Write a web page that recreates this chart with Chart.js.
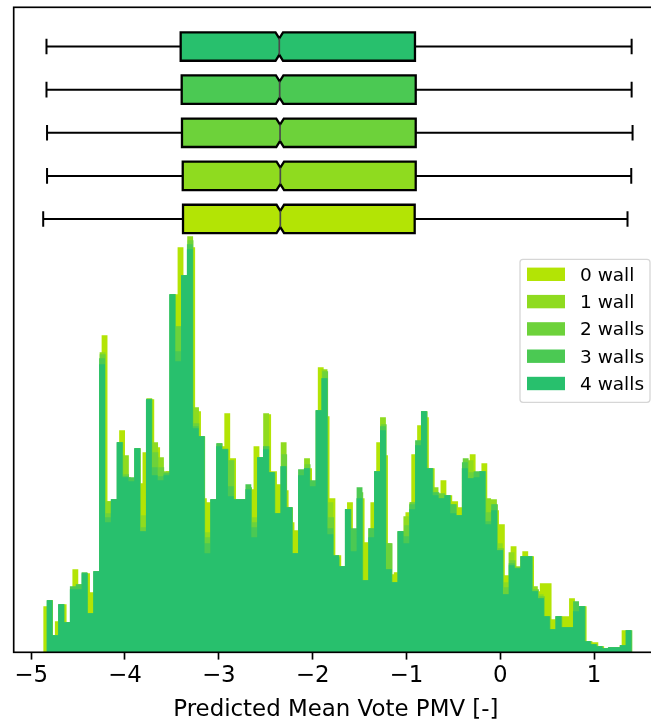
<!DOCTYPE html>
<html>
<head>
<meta charset="utf-8">
<script src="https://cdn.jsdelivr.net/npm/chart.js@4.4.0/dist/chart.umd.min.js"></script>
<style>
html, body { margin: 0; padding: 0; background: #fff; overflow: hidden; }
#wrap { width: 665px; height: 722px; }
</style>
</head>
<body>
<div id="wrap"><canvas id="pmvChart" width="665" height="722"></canvas></div>
<script>
// series
const seriesNames = ['0 wall', '1 wall', '2 walls', '3 walls', '4 walls'];
const seriesColors = ['#b3e405', '#8fdb1f', '#6dd23a', '#4bc953', '#28c06d'];

// box plot stats (PMV)
const whiskerLo = [-4.871, -4.830, -4.830, -4.836, -4.836];
const q1 = [-3.381, -3.384, -3.392, -3.395, -3.406];
const median = [-2.344, -2.344, -2.347, -2.351, -2.355];
const q3 = [-0.912, -0.901, -0.901, -0.901, -0.909];
const whiskerHi = [1.356, 1.396, 1.410, 1.400, 1.400];
const notchHalf = [0.04, 0.04, 0.04, 0.04, 0.04];
const boxPos = [1, 2, 3, 4, 5];

const xTicks = [-5, -4, -3, -2, -1, 0, 1];
const binCount = 100;

// histogram counts, 100 bins between whiskerLo and whiskerHi of each series
const counts0 = [46,17,31,48,30,83,63,79,60,81,
  317,151,153,222,175,171,169,200,253,205,
  172,181,358,405,377,405,241,154,150,153,
  206,239,194,153,153,163,206,195,238,181,
  168,162,130,122,177,184,166,285,236,154,
  97,86,150,101,154,110,150,210,197,78,
  80,121,140,198,227,235,184,157,172,157,
  151,145,184,198,175,189,128,142,128,77,
  106,84,101,96,61,69,69,33,36,36,
  54,41,46,11,10,6,4,5,5,22];
const counts1 = [52,17,48,30,63,68,79,39,81,300,
  151,153,210,197,171,204,137,254,210,195,
  181,358,326,377,416,245,216,120,153,206,
  204,192,153,153,163,135,195,239,180,139,
  210,145,99,177,194,166,242,283,150,97,
  86,143,106,154,72,124,181,235,109,70,
  121,136,150,207,241,184,165,154,157,139,
  137,184,192,175,181,154,153,109,70,100,
  86,96,96,66,58,36,23,36,25,25,
  41,46,11,8,6,4,5,5,7,22];
const counts2 = [52,17,48,30,64,66,79,39,81,298,
  139,153,210,178,171,204,125,253,200,185,
  180,358,326,377,412,229,216,115,153,209,
  203,192,153,153,165,130,195,206,180,139,
  198,145,99,180,188,168,242,281,135,95,
  86,143,106,160,72,120,181,228,109,70,
  121,127,150,210,241,184,160,159,157,148,
  137,194,180,178,181,140,148,104,65,92,
  85,96,96,63,56,36,23,36,25,25,
  45,46,11,8,6,4,5,5,7,22];
const counts3 = [52,17,48,30,66,68,80,39,81,294,
  135,153,210,176,175,204,121,253,185,176,
  179,358,301,377,408,226,216,109,153,209,
  203,166,153,153,168,125,195,206,180,139,
  186,145,99,183,184,172,242,274,124,92,
  86,143,124,165,72,124,181,226,83,70,
  121,116,148,212,241,184,160,154,157,148,
  137,190,174,181,181,131,148,102,58,89,
  84,96,96,61,54,36,23,36,25,25,
  51,46,11,8,6,4,5,5,7,22];
const counts4 = [52,17,48,30,63,63,79,39,81,288,
  130,153,210,175,171,204,121,253,177,172,
  177,358,291,377,403,224,216,99,153,206,
  203,156,153,153,163,115,195,203,180,139,
  186,145,99,177,184,166,242,274,118,97,
  86,143,101,154,72,115,181,222,83,70,
  121,109,143,207,241,184,157,154,157,139,
  137,184,174,175,181,128,142,102,58,87,
  84,96,96,61,54,36,23,36,25,25,
  41,46,11,8,6,4,5,5,7,22];
const allCounts = [counts0, counts1, counts2, counts3, counts4];

const FONT = 'DejaVu Sans';

function histPoints(i) {
  const lo = whiskerLo[i], hi = whiskerHi[i];
  const w = (hi - lo) / binCount;
  const pts = allCounts[i].map((c, k) => ({x: lo + k * w, y: c}));
  pts.push({x: hi, y: allCounts[i][binCount - 1]});
  return pts;
}

const datasets = seriesNames.map((name, i) => ({
  label: name,
  data: histPoints(i),
  stepped: true,
  fill: 'origin',
  backgroundColor: seriesColors[i],
  borderColor: 'rgba(0,0,0,0)',
  borderWidth: 1,
  pointRadius: 0,
  order: seriesNames.length - 1 - i   // 4 walls on top
}));

const framePlugin = {
  id: 'frame',
  afterDraw(chart) {
    const {ctx, chartArea: a} = chart;
    ctx.save();
    ctx.strokeStyle = '#000';
    ctx.lineWidth = 1.67;
    ctx.strokeRect(a.left, a.top, a.right - a.left, a.bottom - a.top);
    ctx.restore();
  }
};

const boxPlugin = {
  id: 'boxes',
  afterDatasetsDraw(chart) {
    const ctx = chart.ctx, xs = chart.scales.x, ys = chart.scales.yb;
    ctx.save();
    seriesNames.forEach((name, i) => {
      const yc = ys.getPixelForValue(boxPos[i]);
      const half = Math.abs(ys.getPixelForValue(boxPos[i] + 0.33) - yc);
      const capHalf = half * 0.55;
      const depth = half * 0.42;
      const xlo = xs.getPixelForValue(whiskerLo[i]);
      const xq1 = xs.getPixelForValue(q1[i]);
      const xm = xs.getPixelForValue(median[i]);
      const xq3 = xs.getPixelForValue(q3[i]);
      const xhi = xs.getPixelForValue(whiskerHi[i]);
      const xn1 = xs.getPixelForValue(median[i] - notchHalf[i]);
      const xn2 = xs.getPixelForValue(median[i] + notchHalf[i]);
      const top = yc - half, bot = yc + half;

      // whiskers + caps
      ctx.strokeStyle = '#000';
      ctx.lineWidth = 2;
      ctx.beginPath();
      ctx.moveTo(xlo, yc); ctx.lineTo(xq1, yc);
      ctx.moveTo(xq3, yc); ctx.lineTo(xhi, yc);
      ctx.moveTo(xlo, yc - capHalf); ctx.lineTo(xlo, yc + capHalf);
      ctx.moveTo(xhi, yc - capHalf); ctx.lineTo(xhi, yc + capHalf);
      ctx.stroke();

      // notched box
      ctx.beginPath();
      ctx.moveTo(xq1, top);
      ctx.lineTo(xn1, top);
      ctx.lineTo(xm, top + depth);
      ctx.lineTo(xn2, top);
      ctx.lineTo(xq3, top);
      ctx.lineTo(xq3, bot);
      ctx.lineTo(xn2, bot);
      ctx.lineTo(xm, bot - depth);
      ctx.lineTo(xn1, bot);
      ctx.lineTo(xq1, bot);
      ctx.closePath();
      ctx.fillStyle = seriesColors[i];
      ctx.fill();
      ctx.lineWidth = 2.3;
      ctx.lineJoin = 'miter';
      ctx.stroke();

      // median
      ctx.strokeStyle = '#4a4a4a';
      ctx.lineWidth = 1.7;
      ctx.beginPath();
      ctx.moveTo(xm, top + depth);
      ctx.lineTo(xm, bot - depth);
      ctx.stroke();
    });
    ctx.restore();
  }
};

const legendPlugin = {
  id: 'wallLegend',
  afterDraw(chart) {
    const ctx = chart.ctx, a = chart.chartArea;
    const bw = 130, bh = 143;
    const bx = a.right - 8 - bw, by = a.top + 252;
    ctx.save();
    ctx.beginPath();
    ctx.roundRect(bx, by, bw, bh, 3);
    ctx.fillStyle = 'rgba(255,255,255,0.8)';
    ctx.fill();
    ctx.strokeStyle = '#d6d6d6';
    ctx.lineWidth = 1.3;
    ctx.stroke();
    ctx.font = '18.5px "' + FONT + '"';
    ctx.textBaseline = 'middle';
    ctx.textAlign = 'left';
    chart.data.datasets.forEach((ds, i) => {
      const cy = by + 15 + i * 27.3;
      ctx.fillStyle = ds.backgroundColor;
      ctx.fillRect(bx + 7, cy - 6.7, 38, 13.4);
      ctx.fillStyle = '#000';
      ctx.fillText(ds.label, bx + 60, cy + 1.5);
    });
    ctx.restore();
  }
};

new Chart(document.getElementById('pmvChart'), {
  type: 'line',
  data: {datasets: datasets},
  plugins: [framePlugin, boxPlugin, legendPlugin],
  options: {
    responsive: false,
    animation: false,
    events: [],
    layout: {padding: {left: 13.7, top: 7.3, right: 7, bottom: 0}},
    plugins: {legend: {display: false}, tooltip: {enabled: false}},
    scales: {
      x: {
        type: 'linear',
        min: -5.1854,
        max: 1.681,
        afterBuildTicks: (s) => { s.ticks = xTicks.map(v => ({value: v})); },
        afterFit: (s) => { s.height = 69.7; },
        grid: {display: true, drawOnChartArea: false, drawTicks: true, tickLength: 7.3, tickWidth: 1.67, tickColor: '#000'},
        border: {display: false},
        ticks: {
          color: '#000',
          padding: 3,
          maxRotation: 0,
          font: {family: FONT, size: 22.9},
          callback: (v) => v < 0 ? '\u2212' + Math.abs(v) : String(v)
        },
        title: {
          display: true,
          text: 'Predicted Mean Vote PMV [-]',
          color: '#000',
          font: {family: FONT, size: 22.9},
          padding: {top: 0, bottom: -1.5}
        }
      },
      y: {
        min: 0,
        max: 645,
        afterFit: (s) => { s.width = 0; },
        grid: {display: false},
        border: {display: false},
        ticks: {display: false}
      },
      yb: {
        display: false,
        min: -9.05,
        max: 5.91
      }
    }
  }
});
</script>
</body>
</html>
